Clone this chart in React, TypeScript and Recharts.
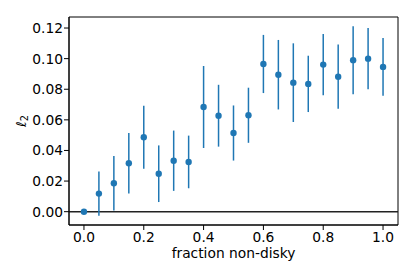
import {
  ErrorBar,
  ReferenceArea,
  ReferenceLine,
  Scatter,
  ScatterChart,
  XAxis,
  YAxis,
} from "recharts"

const FRACTION = [0, 0.05, 0.1, 0.15, 0.2, 0.25, 0.3, 0.35, 0.4, 0.45, 0.5, 0.55, 0.6, 0.65, 0.7, 0.75, 0.8, 0.85, 0.9, 0.95, 1.0]
const ELL2 = [0, 0.0118, 0.0186, 0.0316, 0.0486, 0.0248, 0.0333, 0.0325, 0.0684, 0.0627, 0.0514, 0.063, 0.0965, 0.0895, 0.0843, 0.0835, 0.0961, 0.0882, 0.099, 0.1, 0.0946]
const ELL2_ERR = [0, 0.0145, 0.0178, 0.0198, 0.0206, 0.0185, 0.0197, 0.0172, 0.0268, 0.0202, 0.018, 0.018, 0.019, 0.0227, 0.0257, 0.0184, 0.02, 0.021, 0.0222, 0.02, 0.0188]

const X_TICKS = [0, 0.2, 0.4, 0.6, 0.8, 1.0]
const Y_TICKS = [0, 0.02, 0.04, 0.06, 0.08, 0.1, 0.12]

const X_DOMAIN: [number, number] = [-0.05, 1.05]
const Y_DOMAIN: [number, number] = [-0.0087, 0.1272]

const BLUE = "#1f77b4"
const FONT = "DejaVu Sans"
const FS = 13.8

const data = FRACTION.map((x, i) => ({ x, y: ELL2[i], err: ELL2_ERR[i] }))

function Dot(props: any) {
  const { cx, cy } = props
  return <circle cx={cx} cy={cy} r={3.2} fill={BLUE} />
}

function YLabel(props: any) {
  const { viewBox } = props
  const cx = 21
  const cy = viewBox.y + viewBox.height / 2
  return (
    <text
      x={cx}
      y={cy}
      transform={`rotate(-90 ${cx} ${cy})`}
      textAnchor="middle"
      dominantBaseline="central"
      fontFamily={FONT}
      fontSize={FS}
      fill="#000"
    >
      <tspan fontStyle="italic">ℓ</tspan>
      <tspan fontSize={FS * 0.7} dy={3}>2</tspan>
    </text>
  )
}

function XLabel(props: any) {
  const { viewBox } = props
  return (
    <text
      x={viewBox.x + viewBox.width / 2}
      y={viewBox.y + 33}
      textAnchor="middle"
      fontFamily={FONT}
      fontSize={FS}
      fill="#000"
    >
      fraction non-disky
    </text>
  )
}

export default function App() {
  const tickStyle = { fontSize: FS, fontFamily: FONT, fill: "#000" }
  return (
    <div style={{ position: "absolute", left: 0, top: 0, width: 415, height: 277, background: "#fff" }}>
      <ScatterChart width={415} height={277} margin={{ top: 17, right: 17, bottom: 0, left: 0 }}>
        <XAxis
          dataKey="x"
          type="number"
          domain={X_DOMAIN}
          ticks={X_TICKS}
          allowDataOverflow
          tickFormatter={v => v.toFixed(1)}
          tick={tickStyle}
          tickSize={5}
          tickMargin={2}
          stroke="#000"
          height={52}
          label={<XLabel />}
        />
        <YAxis
          dataKey="y"
          type="number"
          domain={Y_DOMAIN}
          ticks={Y_TICKS}
          allowDataOverflow
          tickFormatter={v => v.toFixed(2)}
          tick={tickStyle}
          tickSize={5}
          tickMargin={1}
          stroke="#000"
          width={69}
          label={<YLabel />}
        />
        <ReferenceArea
          x1={X_DOMAIN[0]}
          x2={X_DOMAIN[1]}
          y1={Y_DOMAIN[0]}
          y2={Y_DOMAIN[1]}
          fill="none"
          fillOpacity={0}
          stroke="#000"
          strokeWidth={1}
        />
        <ReferenceLine y={0} stroke="#222" strokeWidth={1.5} />
        <Scatter data={data} fill={BLUE} shape={<Dot />} isAnimationActive={false}>
          <ErrorBar dataKey="err" direction="y" width={0} stroke={BLUE} strokeWidth={1.5} isAnimationActive={false} />
        </Scatter>
      </ScatterChart>
    </div>
  )
}
